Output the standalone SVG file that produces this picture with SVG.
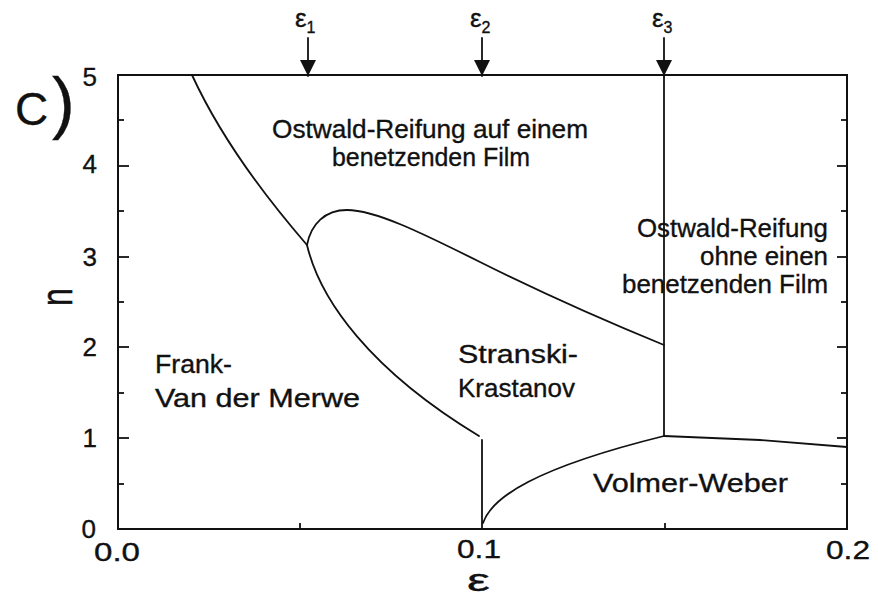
<svg xmlns="http://www.w3.org/2000/svg" width="878" height="599" viewBox="0 0 878 599">
<style>
  .ax { fill: none; stroke: #111; stroke-width: 2; }
  .cv { fill: none; stroke: #111; stroke-width: 1.8; stroke-linecap: round; }
  .tk { stroke: #111; stroke-width: 1.8; }
  text { font-family: "Liberation Sans", Arial, sans-serif; fill: #111; stroke: #111; stroke-width: 0.35; }
  .tl { font-size: 26px; }
  .rl { font-size: 26px; }
  .el { font-size: 26px; }
  .sub { font-size: 16px; }
</style>
<defs>
  <marker id="ah" markerUnits="userSpaceOnUse" markerWidth="16" markerHeight="16" refX="16" refY="8" orient="auto" viewBox="0 0 16 16">
    <path d="M0,0 L16,8 L0,16 Z" fill="#111"/>
  </marker>
</defs>
<rect width="878" height="599" fill="#fff"/>

<g id="panel-label">
  <text x="15" y="125" style="font-size:46px">C</text>
  <text x="52" y="126" style="font-size:68px">)</text>
</g>

<g id="axes">
  <rect class="ax" x="118" y="75" width="729" height="454"/>
  <line class="tk" x1="118" y1="166" x2="129" y2="166"/>
  <line class="tk" x1="118" y1="257" x2="129" y2="257"/>
  <line class="tk" x1="118" y1="347" x2="129" y2="347"/>
  <line class="tk" x1="118" y1="438" x2="129" y2="438"/>
  <line class="tk" x1="118" y1="120" x2="124" y2="120"/>
  <line class="tk" x1="118" y1="211" x2="124" y2="211"/>
  <line class="tk" x1="118" y1="302" x2="124" y2="302"/>
  <line class="tk" x1="118" y1="393" x2="124" y2="393"/>
  <line class="tk" x1="118" y1="484" x2="124" y2="484"/>
  <line class="tk" x1="847" y1="166" x2="837" y2="166"/>
  <line class="tk" x1="847" y1="257" x2="837" y2="257"/>
  <line class="tk" x1="847" y1="347" x2="837" y2="347"/>
  <line class="tk" x1="847" y1="438" x2="837" y2="438"/>
  <line class="tk" x1="847" y1="120" x2="841" y2="120"/>
  <line class="tk" x1="847" y1="211" x2="841" y2="211"/>
  <line class="tk" x1="847" y1="302" x2="841" y2="302"/>
  <line class="tk" x1="847" y1="393" x2="841" y2="393"/>
  <line class="tk" x1="847" y1="484" x2="841" y2="484"/>
  <line class="tk" x1="300" y1="529" x2="300" y2="523"/>
  <line class="tk" x1="665" y1="529" x2="665" y2="523"/>
  <text class="tl" x="97" y="86" text-anchor="end">5</text>
  <text class="tl" x="97" y="173" text-anchor="end">4</text>
  <text class="tl" x="97" y="266" text-anchor="end">3</text>
  <text class="tl" x="97" y="356" text-anchor="end">2</text>
  <text class="tl" x="97" y="447" text-anchor="end">1</text>
  <text class="tl" x="96" y="538" text-anchor="end">0</text>
  <text class="tl" x="94" y="561" textLength="46" lengthAdjust="spacingAndGlyphs">0.0</text>
  <text class="tl" x="457" y="558" textLength="44" lengthAdjust="spacingAndGlyphs">0.1</text>
  <text class="tl" x="826" y="559" textLength="44" lengthAdjust="spacingAndGlyphs">0.2</text>
  <text x="467" y="591" style="font-size:32px" textLength="23" lengthAdjust="spacingAndGlyphs">ε</text>
  <text transform="translate(72,306) scale(1.4,1) rotate(-90)" style="font-size:32px">n</text>
</g>

<g id="connectors">
  <path class="cv" d="M192,75 C215,125 255,185 307,245"/>
  <path class="cv" d="M307,245 C320,300 370,370 479,436"/>
  <path class="cv" d="M307,245 C311,224 325,210 347,210 C375,210 420,232 480,262 C560,302 620,327 664,345"/>
  <line class="cv" x1="482" y1="440" x2="482" y2="529"/>
  <path class="cv" d="M483,523 C492,497 535,468 664,436"/>
  <path class="cv" d="M664,436 L760,440 L847,447"/>
  <line class="cv" x1="664" y1="75" x2="664" y2="436"/>
  <line class="cv" x1="308" y1="38" x2="308" y2="76" marker-end="url(#ah)"/>
  <line class="cv" x1="482" y1="38" x2="482" y2="76" marker-end="url(#ah)"/>
  <line class="cv" x1="664" y1="38" x2="664" y2="76" marker-end="url(#ah)"/>
</g>

<g id="eps-labels">
  <text class="el" x="295" y="27">ε<tspan class="sub" dy="6">1</tspan></text>
  <text class="el" x="470" y="27">ε<tspan class="sub" dy="6">2</tspan></text>
  <text class="el" x="652" y="27">ε<tspan class="sub" dy="6">3</tspan></text>
</g>

<g id="region-ostwald-film">
  <text class="rl" x="272" y="138" textLength="316" lengthAdjust="spacingAndGlyphs">Ostwald-Reifung auf einem</text>
  <text class="rl" x="332" y="166" textLength="198" lengthAdjust="spacingAndGlyphs">benetzenden Film</text>
</g>

<g id="region-ostwald-nofilm">
  <text class="rl" x="637" y="237" textLength="191" lengthAdjust="spacingAndGlyphs">Ostwald-Reifung</text>
  <text class="rl" x="700" y="265" textLength="128" lengthAdjust="spacingAndGlyphs">ohne einen</text>
  <text class="rl" x="622" y="293" textLength="206" lengthAdjust="spacingAndGlyphs">benetzenden Film</text>
</g>

<g id="region-fm">
  <text class="rl" x="155" y="373" textLength="77" lengthAdjust="spacingAndGlyphs">Frank-</text>
  <text class="rl" x="155" y="407" textLength="205" lengthAdjust="spacingAndGlyphs">Van der Merwe</text>
</g>

<g id="region-sk">
  <text class="rl" x="458" y="363" textLength="120" lengthAdjust="spacingAndGlyphs">Stranski-</text>
  <text class="rl" x="458" y="397" textLength="117" lengthAdjust="spacingAndGlyphs">Krastanov</text>
</g>

<g id="region-vw">
  <text class="rl" x="593" y="492" textLength="195" lengthAdjust="spacingAndGlyphs">Volmer-Weber</text>
</g>
</svg>
